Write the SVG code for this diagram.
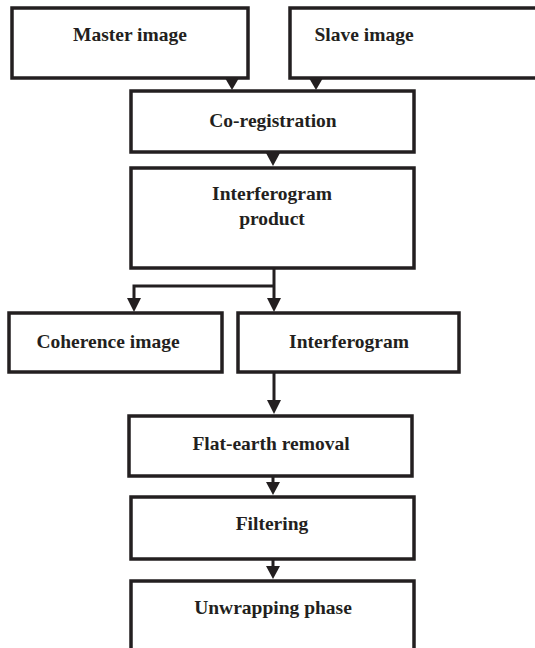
<svg xmlns="http://www.w3.org/2000/svg" width="535" height="648" viewBox="0 0 535 648">
<defs>
<style>
.box{fill:#fff;stroke:#231f20;stroke-width:3.5}
.t{font-family:"Liberation Serif","Times New Roman",serif;font-weight:bold;font-size:19.5px;fill:#231f20;text-anchor:middle}
.c{stroke:#231f20;stroke-width:3;fill:none}
.ah{fill:#231f20}
</style>
</defs>
<rect width="535" height="648" fill="#fff"/>
<g id="master"><rect class="box" x="12" y="8" width="236" height="70"/><text class="t" x="130" y="41">Master image</text></g>
<g id="slave"><rect class="box" x="290" y="8" width="260" height="70"/><text class="t" x="364" y="41">Slave image</text></g>
<g id="coreg"><rect class="box" x="131" y="91" width="283" height="61"/><text class="t" x="273" y="127">Co-registration</text></g>
<g id="ifgprod"><rect class="box" x="131" y="168" width="283" height="100"/><text class="t" x="272" y="200">Interferogram</text><text class="t" x="272" y="225">product</text></g>
<g id="coherence"><rect class="box" x="9" y="313" width="213" height="59"/><text class="t" x="108" y="348">Coherence image</text></g>
<g id="ifg"><rect class="box" x="238" y="313" width="221" height="59"/><text class="t" x="349" y="348">Interferogram</text></g>
<g id="flat"><rect class="box" x="129" y="416" width="283" height="60"/><text class="t" x="271" y="450">Flat-earth removal</text></g>
<g id="filter"><rect class="box" x="131" y="497" width="283" height="62"/><text class="t" x="272" y="530">Filtering</text></g>
<g id="unwrap"><rect class="box" x="131" y="581" width="283" height="80"/><text class="t" x="273" y="614">Unwrapping phase</text></g>
<g id="connectors">
<path class="c" d="M232 78V80"/><path class="ah" d="M225 78H239L232 90Z"/>
<path class="c" d="M316 78V80"/><path class="ah" d="M309 78H323L316 90Z"/>
<path class="c" d="M273 152V155"/><path class="ah" d="M266 153H280L273 166Z"/>
<path class="c" d="M274 268V302"/><path class="ah" d="M267 298H281L274 312Z"/>
<path class="c" d="M274 286H134V302"/><path class="ah" d="M127 298H141L134 312Z"/>
<path class="c" d="M274 372V404"/><path class="ah" d="M267 400H281L274 414Z"/>
<path class="c" d="M273 476V486"/><path class="ah" d="M266 482H280L273 495Z"/>
<path class="c" d="M273 559V569"/><path class="ah" d="M266 566H280L273 579Z"/>
</g>
</svg>
